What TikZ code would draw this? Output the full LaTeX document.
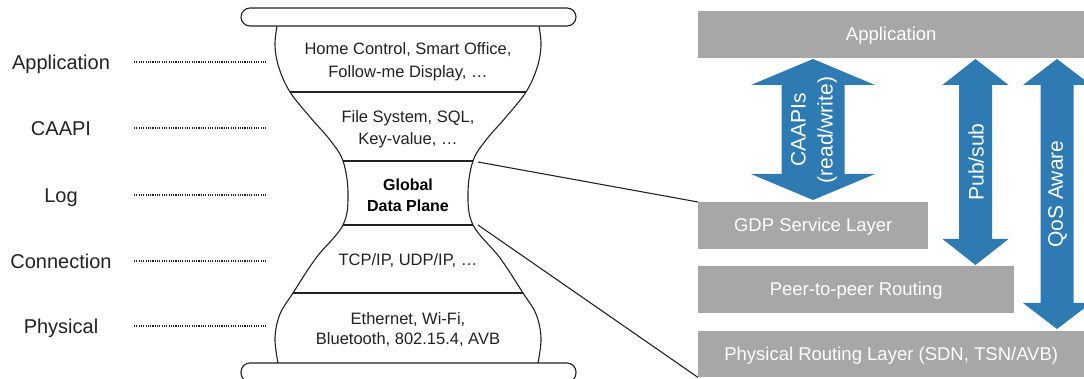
\documentclass[tikz,border=0pt]{standalone}
\usepackage{fontspec}
\setmainfont{Liberation Sans}
\definecolor{gbox}{RGB}{166,167,166}
\definecolor{arrowblue}{RGB}{46,123,179}
\definecolor{txt}{RGB}{34,34,34}
\newcommand\dblarrow[6]{% cx, top, bottom, head half width, shaft half width, head length
  \fill[arrowblue] (#1,#2) -- ({#1+#4},{#2+#6}) -- ({#1+#5},{#2+#6}) -- ({#1+#5},{#3-#6}) -- ({#1+#4},{#3-#6}) -- (#1,#3)
    -- ({#1-#4},{#3-#6}) -- ({#1-#5},{#3-#6}) -- ({#1-#5},{#2+#6}) -- ({#1-#4},{#2+#6}) -- cycle;}
\newcommand\hgleft{(277,26) (275,46) (279,68) (290,92) (310,117) (330,140) (343,161) (348,193) (343,225) (316,258) (293,293) (280,314) (275,338) (278,363)}
\newcommand\hgright{(538,363) (541,338) (536,314) (523,293) (500,258) (473,225) (468,193) (473,161) (486,140) (506,117) (526,92) (537,68) (541,46) (539,26)}
\begin{document}
\begin{tikzpicture}[x=1pt,y=-1pt,
  graybox/.style={fill=gbox, inner sep=0, anchor=north west},
  boxtext/.style={font=\fontsize{18.5}{22}\selectfont, text=white, yshift=-1.5pt},
  layerlbl/.style={font=\fontsize{20}{24}\selectfont, text=txt, anchor=base},
  arrowtxt/.style={font=\fontsize{21}{27}\selectfont, text=white, align=center, rotate=90},
  leader/.style={line width=1.3pt, dash pattern=on 1.1pt off 1.2pt, txt},
  outline/.style={line width=1.1pt, txt},
  hgcurve/.style={smooth, tension=0.6}
]
\useasboundingbox (0,0) rectangle (1084,379);

% gray layer boxes
\node[graybox, minimum width=386, minimum height=47] (app) at (698,11) {};
\node[boxtext] (apptxt) at (app.center) {Application};
\node[graybox, minimum width=230, minimum height=47] (gdp) at (698,202) {};
\node[boxtext] (gdptxt) at (gdp.center) {GDP Service Layer};
\node[graybox, minimum width=316, minimum height=47] (p2p) at (698,266) {};
\node[boxtext] (p2ptxt) at (p2p.center) {Peer-to-peer Routing};
\node[graybox, minimum width=386, minimum height=46] (phys) at (698,331) {};
\node[boxtext] (phystxt) at (phys.center) {Physical Routing Layer (SDN, TSN/AVB)};

% blue arrows
\dblarrow{813}{59}{200}{62}{31.5}{26}
\dblarrow{975.5}{59}{265}{33}{16.5}{26}
\dblarrow{1057}{59}{329}{34}{16.5}{26}
\node[arrowtxt] (caapi) at (814,130) {CAAPIs\\(read/write)};
\node[arrowtxt] (pubsub) at (976,162) {Pub/sub};
\node[arrowtxt] (qos) at (1057.5,194) {QoS Aware};

% hourglass
\begin{scope}
  \clip plot[hgcurve] coordinates {\hgleft} -- plot[hgcurve] coordinates {\hgright} -- cycle;
  \foreach \yy in {92,161,225,293} \draw[outline] (250,\yy) -- (570,\yy);
\end{scope}
\draw[outline] plot[hgcurve] coordinates {\hgleft};
\draw[outline] plot[hgcurve] coordinates {\hgright};
\draw[outline, rounded corners=9, fill=white] (241,8) rectangle (576,26);
\draw[outline, rounded corners=9, fill=white] (241,363) rectangle (576,382);

\node[font=\fontsize{16.5}{22.5}\selectfont, text=txt, align=center] (happ) at (408,61.5) {Home Control, Smart Office,\\Follow-me Display, \dots};
\node[font=\fontsize{16.5}{21.5}\selectfont, text=txt, align=center] (hcaapi) at (408,129) {File System, SQL,\\Key-value, \dots};
\node[font=\fontsize{16}{21}\selectfont\bfseries, text=black, align=center] (hlog) at (408,195) {Global\\Data Plane};
\node[font=\fontsize{16.5}{21}\selectfont, text=txt] (hconn) at (408,261) {TCP/IP, UDP/IP, \dots};
\node[font=\fontsize{16.5}{20.5}\selectfont, text=txt, align=center] (hphys) at (408,329.5) {Ethernet, Wi-Fi,\\Bluetooth, 802.15.4, AVB};

% zoom lines
\coordinate (c1) at (478,162);
\coordinate (c2) at (478,225);
\draw[outline] (c1) -- (gdp.north west);
\draw[outline] (c2) -- (phys.south west);

% left labels and leaders
\foreach \nm/\lbl/\yy in {lapp/Application/62, lcaapi/CAAPI/128, llog/Log/195, lconn/Connection/261, lphys/Physical/326}{
  \node[layerlbl] (\nm) at (61,\yy+7.5) {\lbl};
  \coordinate (\nm a) at (134,\yy);
  \coordinate (\nm b) at (266,\yy);
  \draw[leader] (\nm a) -- (\nm b);
}
\end{tikzpicture}
\end{document}
